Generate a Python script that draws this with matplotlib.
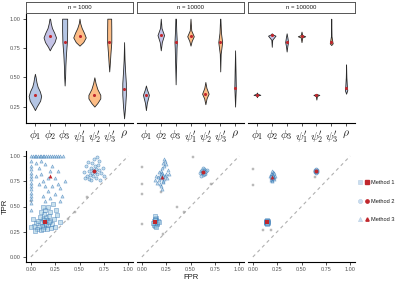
# -*- coding:utf-8 -*-
# violin plots of estimates (top) and TPR/FPR scatter (bottom), three sample sizes
import matplotlib
matplotlib.use("Agg")
import matplotlib.pyplot as plt
from matplotlib.legend_handler import HandlerTuple
from matplotlib.lines import Line2D
import numpy as np

plt.rcParams['font.family'] = ['Liberation Sans', 'DejaVu Sans']
plt.rcParams['mathtext.fontset'] = 'cm'

facets = ["n = 1000", "n = 10000", "n = 100000"]
params = [r"$\phi_1$", r"$\phi_2$", r"$\phi_3$", r"$\psi_1'$", r"$\psi_2'$", r"$\psi_3'$", r"$\rho$"]
param_colors = ["#b4c5e4", "#c4c3e6", "#b4c5e4", "#fdbd86", "#fdbd86", "#fdbd86", "#c0cbe6"]

# violin outlines: levels, half widths, median (per facet, per parameter)
v1000_y = [[0.22, 0.25, 0.30, 0.34, 0.38, 0.42, 0.46, 0.50, 0.53],
           [0.73, 0.76, 0.80, 0.84, 0.88, 0.92, 0.96, 1.00],
           [0.43, 0.50, 0.60, 0.70, 0.80, 0.90, 1.00],
           [0.77, 0.80, 0.84, 0.88, 0.92, 0.96, 1.00],
           [0.25, 0.28, 0.32, 0.35, 0.40, 0.45, 0.50],
           [0.55, 0.60, 0.70, 0.80, 0.90, 1.00],
           [0.15, 0.25, 0.35, 0.45, 0.55, 0.65, 0.80]]
v1000_w = [[0.0, 0.12, 0.35, 0.42, 0.33, 0.18, 0.10, 0.05, 0.0],
           [0.0, 0.12, 0.32, 0.42, 0.30, 0.15, 0.07, 0.02],
           [0.0, 0.03, 0.05, 0.09, 0.15, 0.17, 0.17],
           [0.0, 0.25, 0.42, 0.30, 0.15, 0.05, 0.0],
           [0.0, 0.20, 0.40, 0.40, 0.20, 0.08, 0.0],
           [0.0, 0.03, 0.08, 0.14, 0.14, 0.13],
           [0.0, 0.07, 0.12, 0.12, 0.07, 0.03, 0.0]]
v1000_med = [0.35, 0.85, 0.80, 0.85, 0.35, 0.80, 0.40]

v10000_y = [[0.22, 0.28, 0.35, 0.40, 0.43],
            [0.73, 0.80, 0.86, 0.92, 1.00],
            [0.44, 0.60, 0.75, 0.80, 0.90, 1.00],
            [0.77, 0.81, 0.85, 0.90, 1.00],
            [0.27, 0.32, 0.36, 0.41, 0.46],
            [0.55, 0.70, 0.80, 0.88, 1.00],
            [0.25, 0.35, 0.41, 0.55, 0.73]]
v10000_w = [[0.0, 0.06, 0.20, 0.06, 0.0],
            [0.0, 0.07, 0.22, 0.05, 0.0],
            [0.0, 0.03, 0.06, 0.08, 0.04, 0.02],
            [0.0, 0.08, 0.22, 0.05, 0.0],
            [0.0, 0.08, 0.22, 0.07, 0.0],
            [0.0, 0.03, 0.13, 0.05, 0.01],
            [0.0, 0.03, 0.05, 0.03, 0.0]]
v10000_med = [0.35, 0.86, 0.80, 0.85, 0.36, 0.80, 0.41]

v100000_y = [[0.33, 0.345, 0.35, 0.36, 0.37],
             [0.76, 0.82, 0.855, 0.865, 0.875],
             [0.72, 0.77, 0.80, 0.84, 0.875],
             [0.80, 0.84, 0.85, 0.86, 0.89],
             [0.31, 0.34, 0.35, 0.355, 0.36],
             [0.775, 0.79, 0.80, 0.85, 1.00],
             [0.36, 0.39, 0.41, 0.50, 0.61]]
v100000_w = [[0.0, 0.04, 0.23, 0.04, 0.0],
             [0.0, 0.03, 0.25, 0.08, 0.0],
             [0.0, 0.05, 0.10, 0.05, 0.0],
             [0.0, 0.05, 0.25, 0.05, 0.0],
             [0.0, 0.04, 0.20, 0.06, 0.0],
             [0.0, 0.10, 0.08, 0.02, 0.0],
             [0.0, 0.08, 0.06, 0.02, 0.0]]
v100000_med = [0.35, 0.86, 0.80, 0.85, 0.35, 0.80, 0.41]

violin_y = [v1000_y, v10000_y, v100000_y]
violin_w = [v1000_w, v10000_w, v100000_w]
violin_med = [v1000_med, v10000_med, v100000_med]

# scatter points (FPR, TPR) per facet and method
m1_fpr_1000 = [0.15, 0.13, 0.17, 0.12, 0.18, 0.14, 0.16, 0.10, 0.20, 0.11, 0.19, 0.08, 0.22, 0.13, 0.06, 0.24, 0.10, 0.17, 0.20, 0.05,
               0.15, 0.25, 0.03, 0.27, 0.12, 0.09, 0.21, 0.18, 0.04, 0.14, 0.16, 0.02, 0.26, 0.10, 0.07, 0.23, 0.30, 0.00, 0.12, 0.19]
m1_tpr_1000 = [0.35, 0.33, 0.37, 0.38, 0.32, 0.30, 0.40, 0.35, 0.36, 0.31, 0.41, 0.30, 0.33, 0.43, 0.28, 0.38, 0.27, 0.28, 0.45, 0.34,
               0.47, 0.30, 0.31, 0.42, 0.50, 0.40, 0.29, 0.50, 0.26, 0.37, 0.33, 0.38, 0.47, 0.45, 0.36, 0.52, 0.35, 0.30, 0.28, 0.35]
m2_fpr_1000 = [0.65, 0.63, 0.67, 0.62, 0.68, 0.64, 0.66, 0.60, 0.70, 0.61, 0.69, 0.58, 0.72, 0.63, 0.56, 0.74, 0.60, 0.67, 0.70, 0.55,
               0.65, 0.75, 0.57, 0.68, 0.62, 0.66, 0.64, 0.71, 0.59]
m2_tpr_1000 = [0.85, 0.83, 0.87, 0.88, 0.82, 0.80, 0.90, 0.85, 0.86, 0.81, 0.91, 0.80, 0.83, 0.93, 0.78, 0.88, 0.77, 0.78, 0.95, 0.84,
               0.97, 0.80, 0.90, 0.99, 0.76, 0.84, 0.86, 0.76, 0.94]
m3_fpr_1000 = [0.00, 0.02, 0.04, 0.05, 0.07, 0.09, 0.10, 0.12, 0.14, 0.16, 0.18, 0.20, 0.22, 0.24, 0.26, 0.28, 0.30, 0.33,
               0.00, 0.00, 0.00, 0.00, 0.00, 0.00, 0.00, 0.00, 0.00, 0.00, 0.00, 0.00, 0.00, 0.00,
               0.05, 0.08, 0.10, 0.12, 0.15, 0.18, 0.20, 0.22, 0.25, 0.28, 0.30, 0.15, 0.12, 0.08, 0.25, 0.32, 0.18, 0.22,
               0.28, 0.35, 0.10, 0.05, 0.20, 0.30, 0.15]
m3_tpr_1000 = [1.00, 1.00, 1.00, 1.00, 1.00, 1.00, 1.00, 1.00, 1.00, 1.00, 1.00, 1.00, 1.00, 1.00, 1.00, 1.00, 1.00, 1.00,
               0.95, 0.90, 0.87, 0.83, 0.80, 0.77, 0.73, 0.70, 0.67, 0.63, 0.60, 0.57, 0.53, 0.47,
               0.93, 0.88, 0.82, 0.75, 0.70, 0.65, 0.85, 0.90, 0.78, 0.72, 0.68, 0.92, 0.60, 0.72, 0.62, 0.60, 0.78, 0.70,
               0.85, 0.75, 0.95, 0.80, 0.58, 0.55, 0.55]
gray_fpr_1000 = [0.45, 0.38, 0.58, 0.00]
gray_tpr_1000 = [0.45, 0.38, 0.59, 0.55]

m1_fpr_10000 = [0.14, 0.13, 0.15, 0.12, 0.16, 0.14, 0.15, 0.13, 0.17, 0.12, 0.14, 0.16, 0.13, 0.15, 0.11, 0.14, 0.18, 0.15]
m1_tpr_10000 = [0.35, 0.33, 0.37, 0.36, 0.34, 0.31, 0.39, 0.34, 0.36, 0.32, 0.41, 0.33, 0.38, 0.35, 0.34, 0.37, 0.35, 0.30]
m2_fpr_10000 = [0.63, 0.62, 0.64, 0.61, 0.65, 0.63, 0.64, 0.62, 0.66, 0.60, 0.63, 0.65, 0.62, 0.64, 0.67, 0.61]
m2_tpr_10000 = [0.84, 0.83, 0.86, 0.85, 0.82, 0.81, 0.87, 0.84, 0.85, 0.83, 0.88, 0.84, 0.86, 0.82, 0.86, 0.80]
m3_fpr_10000 = [0.21, 0.20, 0.22, 0.19, 0.23, 0.21, 0.18, 0.24, 0.20, 0.22, 0.17, 0.25, 0.21, 0.19, 0.23, 0.26, 0.15, 0.22,
                0.20, 0.24, 0.18, 0.27, 0.13, 0.21, 0.23, 0.25, 0.16, 0.28, 0.20, 0.22]
m3_tpr_10000 = [0.79, 0.78, 0.81, 0.80, 0.77, 0.83, 0.76, 0.80, 0.85, 0.74, 0.79, 0.82, 0.88, 0.72, 0.90, 0.78, 0.80, 0.93,
                0.70, 0.95, 0.84, 0.86, 0.76, 0.67, 0.97, 0.92, 0.73, 0.82, 0.82, 0.75]
gray_fpr_10000 = [0.00, 0.00, 0.00, 0.53, 0.36, 0.00, 0.20, 0.43, 0.71, 0.22]
gray_tpr_10000 = [0.89, 0.72, 0.62, 0.99, 0.50, 0.33, 0.64, 0.45, 0.72, 0.23]

m1_fpr_100000 = [0.15, 0.14, 0.16, 0.15, 0.14, 0.16, 0.15, 0.14, 0.16, 0.15, 0.13, 0.15]
m1_tpr_100000 = [0.35, 0.34, 0.36, 0.37, 0.35, 0.34, 0.33, 0.36, 0.35, 0.36, 0.35, 0.34]
m2_fpr_100000 = [0.65, 0.64, 0.66, 0.65, 0.64, 0.66, 0.65, 0.64, 0.66, 0.65, 0.65, 0.64]
m2_tpr_100000 = [0.85, 0.84, 0.86, 0.86, 0.85, 0.84, 0.83, 0.86, 0.85, 0.87, 0.84, 0.85]
m3_fpr_100000 = [0.20, 0.19, 0.21, 0.20, 0.22, 0.19, 0.21, 0.18, 0.22, 0.20, 0.21, 0.19, 0.23, 0.20, 0.21, 0.19, 0.22, 0.20]
m3_tpr_100000 = [0.79, 0.78, 0.80, 0.82, 0.79, 0.76, 0.84, 0.80, 0.77, 0.85, 0.81, 0.82, 0.80, 0.76, 0.78, 0.80, 0.83, 0.75]
gray_fpr_100000 = [0.10, 0.19, 0.00, 0.00, 0.64]
gray_tpr_100000 = [0.27, 0.27, 0.87, 0.71, 0.79]

mean_fpr = [[0.15, 0.65, 0.20], [0.14, 0.63, 0.21], [0.15, 0.65, 0.20]]
mean_tpr = [[0.35, 0.85, 0.80], [0.35, 0.84, 0.79], [0.35, 0.85, 0.79]]

scatter_fpr = [[m1_fpr_1000, m2_fpr_1000, m3_fpr_1000],
               [m1_fpr_10000, m2_fpr_10000, m3_fpr_10000],
               [m1_fpr_100000, m2_fpr_100000, m3_fpr_100000]]
scatter_tpr = [[m1_tpr_1000, m2_tpr_1000, m3_tpr_1000],
               [m1_tpr_10000, m2_tpr_10000, m3_tpr_10000],
               [m1_tpr_100000, m2_tpr_100000, m3_tpr_100000]]
gray_fpr = [gray_fpr_1000, gray_fpr_10000, gray_fpr_100000]
gray_tpr = [gray_tpr_1000, gray_tpr_10000, gray_tpr_100000]

methods = ["Method 1", "Method 2", "Method 3"]
markers = ["s", "o", "^"]
pt_color = "#2166ac"
mean_color = "#c0272d"
tick_color = "#555555"

fig = plt.figure(figsize=(4.0, 2.81), dpi=100)
W, H = 400.0, 281.0
lefts = [26, 137, 248]
pw = 107


def style_axis(ax, show_y):
    for s in ['top', 'right']:
        ax.spines[s].set_visible(False)
    ax.spines['bottom'].set_linewidth(0.8)
    ax.spines['left'].set_linewidth(0.8)
    if not show_y:
        ax.spines['left'].set_visible(False)
        ax.tick_params(axis='y', left=False, labelleft=False)
    ax.tick_params(axis='both', length=2.2, width=0.6, colors='#333333',
                   labelcolor=tick_color, labelsize=4, pad=1.5)


for i in range(3):
    # top: violins
    ax = fig.add_axes([lefts[i] / W, (H - 123) / H, pw / W, (123 - 14) / H])
    pos = np.arange(1, 8)
    stats = []
    for j in range(7):
        yy = violin_y[i][j]
        stats.append(dict(coords=np.array(yy), vals=np.array(violin_w[i][j]),
                          mean=violin_med[i][j], median=violin_med[i][j],
                          min=yy[0], max=yy[-1]))
    widths = [2 * max(w) for w in violin_w[i]]
    parts = ax.violin(stats, positions=pos, widths=widths,
                      showmeans=False, showextrema=False, showmedians=False)
    for j, body in enumerate(parts['bodies']):
        body.set_facecolor(param_colors[j])
        body.set_edgecolor('#2a2a2a')
        body.set_linewidth(0.6)
        body.set_alpha(1)
    ax.scatter(pos, violin_med[i], s=5, color=mean_color, zorder=3, linewidths=0)
    ax.set_xlim(0.4, 7.6)
    ax.set_ylim(0.11, 1.04)
    ax.set_xticks(pos)
    ax.set_xticklabels(params)
    ax.set_yticks([0.25, 0.5, 0.75, 1.0])
    ax.set_yticklabels(["0.25", "0.50", "0.75", "1.00"])
    style_axis(ax, i == 0)
    for lab in ax.get_xticklabels():
        lab.set_fontsize(8.3)
        lab.set_color('#222222')

    # facet strip
    sax = fig.add_axes([lefts[i] / W, (H - 13) / H, pw / W, 11 / H])
    sax.set_xticks([])
    sax.set_yticks([])
    for s in sax.spines.values():
        s.set_color('#555555')
        s.set_linewidth(0.7)
    sax.text(0.5, 0.5, facets[i], ha='center', va='center', fontsize=4.3, color='#1a1a1a')

    # bottom: TPR vs FPR
    bx = fig.add_axes([lefts[i] / W, (H - 262) / H, pw / W, (262 - 151) / H])
    bx.plot([0, 1], [0, 1], ls=(0, (3, 3)), color='#b0b0b0', lw=0.8, zorder=1)
    bx.scatter(gray_fpr[i], gray_tpr[i], s=4, marker='s', facecolor='#aaaaaa',
               edgecolor='#808080', linewidths=0.3, alpha=0.6, zorder=2)
    for k in range(3):
        bx.scatter(scatter_fpr[i][k], scatter_tpr[i][k], s=5, marker=markers[k],
                   facecolor='#9ecae1', edgecolor=pt_color, linewidths=0.45,
                   alpha=0.55, zorder=2)
        bx.scatter(mean_fpr[i][k], mean_tpr[i][k], s=8, marker=markers[k],
                   color=mean_color, zorder=4, linewidths=0)
    bx.set_xlim(-0.05, 1.05)
    bx.set_ylim(-0.05, 1.05)
    ticks = [0, 0.25, 0.5, 0.75, 1.0]
    tlabs = ["0.00", "0.25", "0.50", "0.75", "1.00"]
    bx.set_xticks(ticks)
    bx.set_xticklabels(tlabs)
    bx.set_yticks(ticks)
    bx.set_yticklabels(tlabs)
    style_axis(bx, i == 0)
    if i == 0:
        bx.set_ylabel("TPR", fontsize=5.5, color='#1a1a1a', labelpad=1)
    if i == 1:
        bx.set_xlabel("FPR", fontsize=5.5, color='#1a1a1a', labelpad=1.5)

# legend: light symbol + red mean symbol per method
handles = []
for k in range(3):
    light = Line2D([], [], ls='none', marker=markers[k], markersize=3.0,
                   markerfacecolor='#c9def0', markeredgecolor='#b7cde3', markeredgewidth=0.4)
    red = Line2D([], [], ls='none', marker=markers[k], markersize=2.4, color=mean_color)
    handles.append((light, red))
fig.legend(handles, methods, handler_map={tuple: HandlerTuple(ndivide=None, pad=0.5)},
           loc='center left', bbox_to_anchor=(353 / W, 1 - 201 / H), frameon=False,
           fontsize=4.1, labelspacing=2.3, handlelength=1.8, handletextpad=0.4,
           labelcolor='#1a1a1a')

fig.savefig("out.png", dpi=100)
